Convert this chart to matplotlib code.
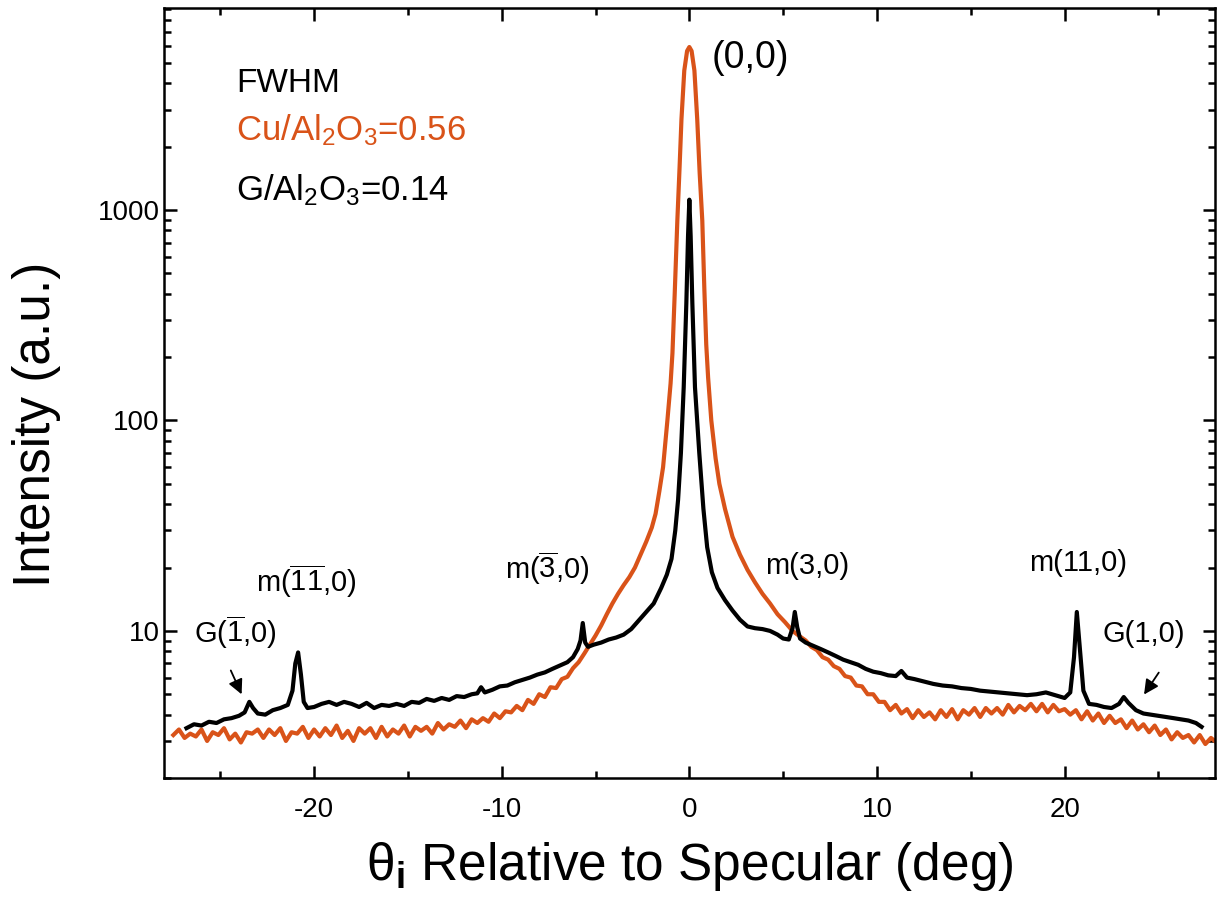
import numpy as np
import matplotlib
matplotlib.use("Agg")
import matplotlib.pyplot as plt
from matplotlib.ticker import FixedLocator, NullFormatter, LogLocator

plt.rcParams['font.family'] = ['Liberation Sans', 'DejaVu Sans']
plt.rcParams['mathtext.fontset'] = 'custom'
plt.rcParams['mathtext.rm'] = 'Liberation Sans'
plt.rcParams['mathtext.it'] = 'Liberation Sans:italic'
plt.rcParams['mathtext.bf'] = 'Liberation Sans:bold'
plt.rcParams['axes.unicode_minus'] = False

# G/Al2O3 scan (black)
black_x = [-26.8, -26.4, -26.0, -25.6, -25.2, -24.8, -24.4, -24.0, -23.7, -23.45, -23.25, -23.0,
           -22.6, -22.2, -21.8, -21.4, -21.15, -21.0, -20.85, -20.7, -20.55, -20.35, -20.0, -19.6,
           -19.2, -18.8, -18.4, -18.0, -17.6, -17.2, -16.8, -16.4, -16.0, -15.6, -15.2, -14.8,
           -14.4, -14.0, -13.6, -13.2, -12.8, -12.4, -12.0, -11.6, -11.3, -11.1, -10.9, -10.5,
           -10.1, -9.7, -9.3, -8.9, -8.5, -8.1, -7.7, -7.3, -6.9, -6.5, -6.2, -5.95, -5.8, -5.68,
           -5.55, -5.4, -5.1, -4.7, -4.3, -3.9, -3.5, -3.1, -2.7, -2.3, -1.9, -1.5, -1.2, -0.95,
           -0.75, -0.6, -0.45, -0.3, -0.16, -0.07, 0.0, 0.07, 0.16, 0.3, 0.53, 0.75, 0.95, 1.2,
           1.5, 1.9, 2.3, 2.7, 3.1, 3.5, 3.9, 4.3, 4.7, 5.0, 5.3, 5.5, 5.62, 5.75, 5.9, 6.2, 6.6,
           7.0, 7.4, 7.8, 8.2, 8.6, 9.0, 9.4, 9.8, 10.2, 10.6, 11.0, 11.3, 11.6, 12.0, 12.5, 13.0,
           13.5, 14.0, 14.5, 15.0, 15.5, 16.0, 16.5, 17.0, 17.5, 18.0, 18.5, 19.0, 19.5, 20.0,
           20.3, 20.5, 20.65, 20.8, 21.0, 21.3, 21.7, 22.1, 22.5, 22.9, 23.15, 23.4, 23.8, 24.2,
           24.6, 25.0, 25.4, 25.8, 26.2, 26.6, 27.0, 27.3]
black_i = [3.45, 3.6, 3.55, 3.7, 3.65, 3.8, 3.85, 3.95, 4.1, 4.6, 4.3, 4.05,
           4.0, 4.2, 4.3, 4.45, 5.2, 7.0, 7.9, 6.2, 4.6, 4.3, 4.35, 4.5,
           4.6, 4.45, 4.6, 4.5, 4.35, 4.55, 4.3, 4.45, 4.4, 4.5, 4.4, 4.6,
           4.55, 4.75, 4.65, 4.8, 4.7, 4.9, 4.85, 5.0, 5.05, 5.4, 5.1, 5.25,
           5.45, 5.5, 5.7, 5.85, 6.0, 6.2, 6.35, 6.6, 6.85, 7.1, 7.5, 8.2, 9.0, 10.9,
           8.8, 8.4, 8.6, 8.8, 9.1, 9.3, 9.6, 10.2, 11.2, 12.3, 13.5, 16.0, 18.5, 22,
           30, 42, 70, 144, 361, 750, 1120, 750, 361, 144, 70, 38, 25, 19,
           16, 14, 12.5, 11.3, 10.5, 10.3, 10.2, 10.0, 9.6, 9.2, 9.1, 10.3, 12.3, 10.4, 9.2, 8.8, 8.5,
           8.2, 7.9, 7.6, 7.3, 7.1, 6.9, 6.6, 6.4, 6.3, 6.15, 6.1, 6.45, 6.0, 5.9, 5.75, 5.6,
           5.5, 5.45, 5.35, 5.3, 5.2, 5.15, 5.1, 5.05, 5.0, 4.95, 5.0, 5.1, 4.95, 4.8,
           5.1, 7.5, 12.3, 8.5, 5.2, 4.5, 4.45, 4.35, 4.3, 4.5, 4.85, 4.55, 4.2, 4.05,
           4.0, 3.95, 3.9, 3.85, 3.8, 3.75, 3.65, 3.5]

# Cu/Al2O3 scan (orange)
red_x = [-27.5, -27.2, -26.9, -26.6, -26.3, -26.0, -25.7, -25.4, -25.1, -24.8, -24.5, -24.2,
         -23.9, -23.6, -23.3, -23.0, -22.7, -22.4, -22.1, -21.8, -21.5, -21.2, -20.9, -20.6,
         -20.3, -20.0, -19.7, -19.4, -19.1, -18.8, -18.5, -18.2, -17.9, -17.6, -17.3, -17.0,
         -16.7, -16.4, -16.1, -15.8, -15.5, -15.2, -14.9, -14.6, -14.3, -14.0, -13.7, -13.4,
         -13.1, -12.8, -12.5, -12.2, -11.9, -11.6, -11.3, -11.0, -10.7, -10.4, -10.1, -9.8,
         -9.5, -9.2, -8.9, -8.6, -8.3, -8.0, -7.7, -7.4, -7.1, -6.8, -6.5, -6.2, -5.9, -5.6,
         -5.3, -5.0, -4.7, -4.4, -4.1, -3.8, -3.5, -3.2, -2.9, -2.6, -2.3, -2.0, -1.8, -1.6,
         -1.4, -1.17, -1.0, -0.9, -0.78, -0.64, -0.52, -0.42, -0.27, -0.12, 0.0, 0.12, 0.27,
         0.42, 0.55, 0.69, 0.8, 0.9, 1.0, 1.17, 1.4, 1.6, 1.9, 2.3, 2.7, 3.1, 3.5, 3.9, 4.3,
         4.7, 5.1, 5.5, 5.9, 6.2, 6.5, 6.8, 7.1, 7.4, 7.7, 8.0, 8.3, 8.6, 8.9, 9.2, 9.5, 9.8,
         10.1, 10.4, 10.7, 11.0, 11.3, 11.6, 11.9, 12.2, 12.5, 12.8, 13.1, 13.4, 13.7, 14.0,
         14.3, 14.6, 14.9, 15.2, 15.5, 15.8, 16.1, 16.4, 16.7, 17.0, 17.3, 17.6, 17.9, 18.2,
         18.5, 18.8, 19.1, 19.4, 19.7, 20.0, 20.3, 20.6, 20.9, 21.2, 21.5, 21.8, 22.1, 22.4,
         22.7, 23.0, 23.3, 23.6, 23.9, 24.2, 24.5, 24.8, 25.1, 25.4, 25.7, 26.0, 26.3, 26.6,
         26.9, 27.2, 27.5, 27.8, 28.1]
red_i = [3.2, 3.4, 3.1, 3.25, 3.15, 3.4, 3.0, 3.3, 3.2, 3.45, 3.05, 3.25,
         2.95, 3.3, 3.25, 3.4, 3.1, 3.4, 3.2, 3.45, 3.0, 3.3, 3.25, 3.5,
         3.1, 3.4, 3.15, 3.45, 3.2, 3.55, 3.1, 3.35, 3.0, 3.45, 3.25, 3.45,
         3.1, 3.5, 3.15, 3.4, 3.25, 3.55, 3.15, 3.5, 3.35, 3.5, 3.25, 3.65,
         3.4, 3.6, 3.5, 3.75, 3.45, 3.8, 3.65, 3.85, 3.7, 4.05, 3.85, 4.15,
         4.1, 4.4, 4.2, 4.7, 4.5, 5.0, 4.85, 5.4, 5.35, 5.9, 6.05, 6.65, 7.1, 7.8,
         8.6, 9.5, 10.6, 12.0, 13.5, 15.0, 16.5, 18.0, 20.0, 23.0, 26.5, 31, 36, 46,
         60, 100, 150, 209, 400, 890, 1600, 2700, 4600, 5700, 5950, 5700, 4600,
         2700, 1500, 890, 420, 230, 160, 100, 66, 50, 38, 28, 23, 19.5, 17, 15, 13.5,
         12.0, 11.0, 10.0, 9.4, 9.0, 8.4, 8.1, 7.5, 7.3, 6.8, 6.6, 6.1, 6.0, 5.5, 5.45, 5.0, 5.0,
         4.6, 4.6, 4.2, 4.45, 4.05, 4.25, 3.85, 4.2, 3.9, 4.1, 3.8, 4.2, 3.9, 4.25,
         3.8, 4.2, 4.0, 4.3, 3.9, 4.3, 4.05, 4.3, 4.0, 4.45, 4.1, 4.4, 4.2, 4.5,
         4.15, 4.5, 4.1, 4.45, 4.15, 4.25, 4.0, 4.2, 3.8, 4.15, 3.75, 4.05, 3.65, 3.95,
         3.65, 3.8, 3.45, 3.75, 3.4, 3.6, 3.3, 3.55, 3.2, 3.4, 3.05, 3.3, 3.1, 3.2,
         2.95, 3.2, 2.9, 3.1, 2.95]

peak_labels = [r"G($\mathrm{\overline{1}}$,0)", r"m($\mathrm{\overline{11}}$,0)", r"m($\mathrm{\overline{3}}$,0)",
               "m(3,0)", "m(11,0)", "G(1,0)"]
peak_label_x = [-24.2, -20.4, -7.55, 6.3, 20.7, 24.2]
peak_label_y = [9.8, 17.1, 19.9, 20.3, 21.0, 9.7]

orange = '#D95319'

fig = plt.figure(figsize=(12.19, 9.11), dpi=100)
ax = fig.add_axes([0.1345, 0.146, 0.862, 0.845])

ax.plot(red_x, red_i, color=orange, lw=3)
ax.plot(black_x, black_i, color='black', lw=3)

ax.set_yscale('log')
ax.set_xlim(-28, 28)
ax.set_ylim(2.0, 9100)

ax.set_xticks([-20, -10, 0, 10, 20])
ax.set_xticks([-25, -15, -5, 5, 15, 25], minor=True)
ax.yaxis.set_major_locator(FixedLocator([10, 100, 1000]))
ax.set_yticklabels(['10', '100', '1000'])
ax.yaxis.set_minor_locator(LogLocator(base=10, subs=np.arange(2, 10)))
ax.yaxis.set_minor_formatter(NullFormatter())

ax.tick_params(which='both', direction='in', top=True, right=True, width=1.8, labelsize=20)
ax.tick_params(axis='x', pad=14)
ax.tick_params(axis='y', pad=3)
ax.tick_params(which='major', length=9)
ax.tick_params(which='minor', length=5)
for s in ax.spines.values():
    s.set_linewidth(1.8)

ax.set_ylabel('Intensity (a.u.)', fontsize=37)
ax.yaxis.set_label_coords(-0.098, 0.46)
ax.set_xlabel(r'θ$_\mathbf{i}$ Relative to Specular (deg)', fontsize=37, labelpad=12)

# FWHM text
ax.text(0.069, 0.891, 'FWHM', transform=ax.transAxes, fontsize=24, color='black')
ax.text(0.069, 0.829, r'Cu/Al$_2$O$_3$=0.56', transform=ax.transAxes, fontsize=25, color=orange)
ax.text(0.069, 0.751, r'G/Al$_2$O$_3$=0.14', transform=ax.transAxes, fontsize=25, color='black')

ax.text(1.17, 5300, '(0,0)', fontsize=27, va='center', ha='left')

for lab, lx, ly in zip(peak_labels, peak_label_x, peak_label_y):
    ax.text(lx, ly, lab, fontsize=21, ha='center', va='center')

# arrows to the graphene peaks
ax.annotate('', xy=(-23.8, 4.86), xytext=(-24.5, 6.67),
            arrowprops=dict(arrowstyle='-|>', color='black', lw=1.3, mutation_scale=22))
ax.annotate('', xy=(24.15, 4.86), xytext=(25.1, 6.5),
            arrowprops=dict(arrowstyle='-|>', color='black', lw=1.3, mutation_scale=22))

plt.savefig('out.png', dpi=100)
